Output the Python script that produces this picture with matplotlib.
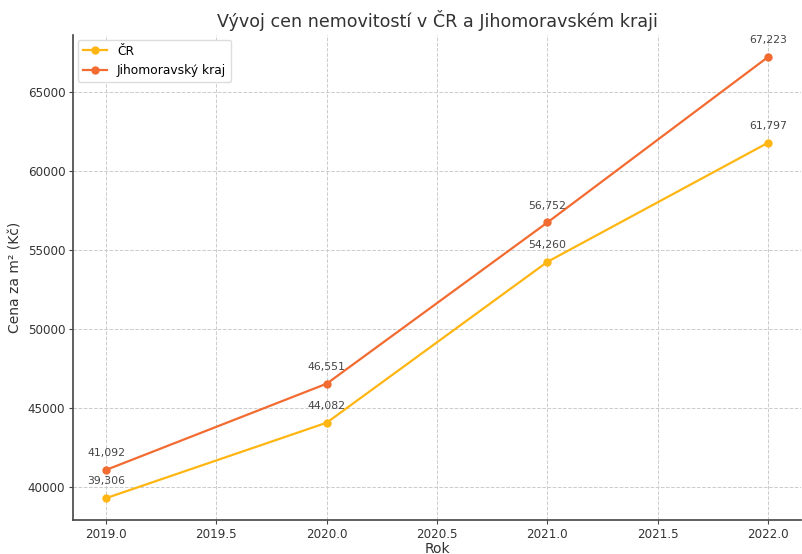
import matplotlib
matplotlib.use("Agg")
import matplotlib.pyplot as plt

years = [2019, 2020, 2021, 2022]
cr = [39306, 44082, 54260, 61797]
jmk = [41092, 46551, 56752, 67223]

plt.rcParams["font.family"] = ["DejaVu Sans"]
fig, ax = plt.subplots(figsize=(8.02, 5.54), dpi=100)

ax.plot(years, cr, marker="o", color="#FFB612", lw=1.6, ms=5, label="ČR")
ax.plot(years, jmk, marker="o", color="#F26B30", lw=1.6, ms=5, label="Jihomoravský kraj")

for x, y in zip(years, cr):
    ax.annotate(f"{y:,}", (x, y), textcoords="offset points", xytext=(0, 10),
                ha="center", fontsize=7.8, color="#444444")
for x, y in zip(years, jmk):
    ax.annotate(f"{y:,}", (x, y), textcoords="offset points", xytext=(0, 10),
                ha="center", fontsize=7.8, color="#444444")

ax.set_title("Vývoj cen nemovitostí v ČR a Jihomoravském kraji", fontsize=12.6,
             color="#333333", pad=6)
ax.set_xlabel("Rok", fontsize=10, color="#333333", labelpad=0.5)
ax.set_ylabel("Cena za m² (Kč)", fontsize=10, color="#333333")
ax.grid(True, ls="--", lw=0.7, color="#cccccc")
for s in ["top", "right"]:
    ax.spines[s].set_visible(False)
for s in ["left", "bottom"]:
    ax.spines[s].set_color("#444444")
    ax.spines[s].set_linewidth(1.2)
ax.tick_params(colors="#444444", labelsize=8.6, labelcolor="#333333", length=3, pad=2.5)
ax.legend(loc="upper left", fontsize=8.8, framealpha=1, edgecolor="#dddddd",
          borderaxespad=0.4)

fig.subplots_adjust(left=0.091, right=0.999, top=0.937, bottom=0.061)
fig.savefig("out.png", dpi=100)
